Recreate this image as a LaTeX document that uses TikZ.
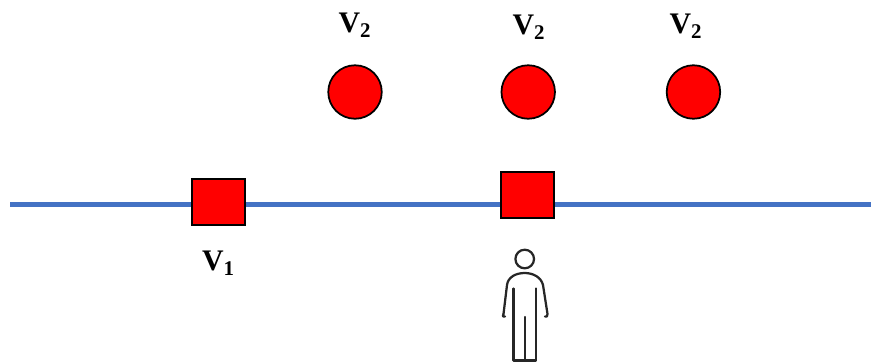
\documentclass[tikz,border=0pt]{standalone}
\usepackage{fontspec}
\setmainfont{Liberation Serif}
\usetikzlibrary{positioning}
\definecolor{roadblue}{HTML}{4472C4}

\begin{document}
\begin{tikzpicture}[
    x=0.02cm, y=-0.02cm,
    station/.style={draw, line width=0.04cm, fill=red, minimum width=1.05cm, minimum height=0.91cm, inner sep=0pt},
    vehicle/.style={draw, line width=0.035cm, fill=red, circle, minimum size=1.07cm, inner sep=0pt},
    tag/.style={font=\bfseries\fontsize{17}{20}\selectfont, inner sep=0pt},
    road/.style={draw=roadblue, line width=0.1cm},
    figure/.style={line width=0.045cm, line cap=round, line join=round, black!85}]
\useasboundingbox (0,0) rectangle (871,362);
\coordinate (roadstart) at (10,204);
\coordinate (roadend) at (871,204);
\draw[road] (roadstart) -- (roadend);
\node[station] (stationa) at (218.5,202) {};
\node[station] (stationb) at (527.5,195) {};
\node[vehicle] (vehiclea) at (355,92) {};
\node[vehicle, right=2.36cm of vehiclea] (vehicleb) {};
\node[vehicle, right=2.2cm of vehicleb] (vehiclec) {};
\node[tag] (taga) at (355,25) {V\textsubscript{2}};
\node[tag] (tagb) at (529,27) {V\textsubscript{2}};
\node[tag] (tagc) at (686,26) {V\textsubscript{2}};
\node[tag, below=0.5cm of stationa] (tagd) {V\textsubscript{1}};
% person
\draw[figure] (524.7,259) circle (9.3);
\draw[figure] (503.5,314) .. controls (502,317) and (504,317) .. (505,316.5);
\draw[figure] (503.5,314) -- (507,285) .. controls (508,277) and (516,273) .. (524.7,273)
    .. controls (533,273) and (541,277) .. (543,285) -- (547.5,314)
    .. controls (548,317) and (546,317) .. (545,316.5);
\draw[figure] (513.5,288.5) -- (513.5,360.5) -- (536,360.5) -- (536,288.5);
\draw[figure] (524.7,317) -- (524.7,360.5);
\end{tikzpicture}
\end{document}
